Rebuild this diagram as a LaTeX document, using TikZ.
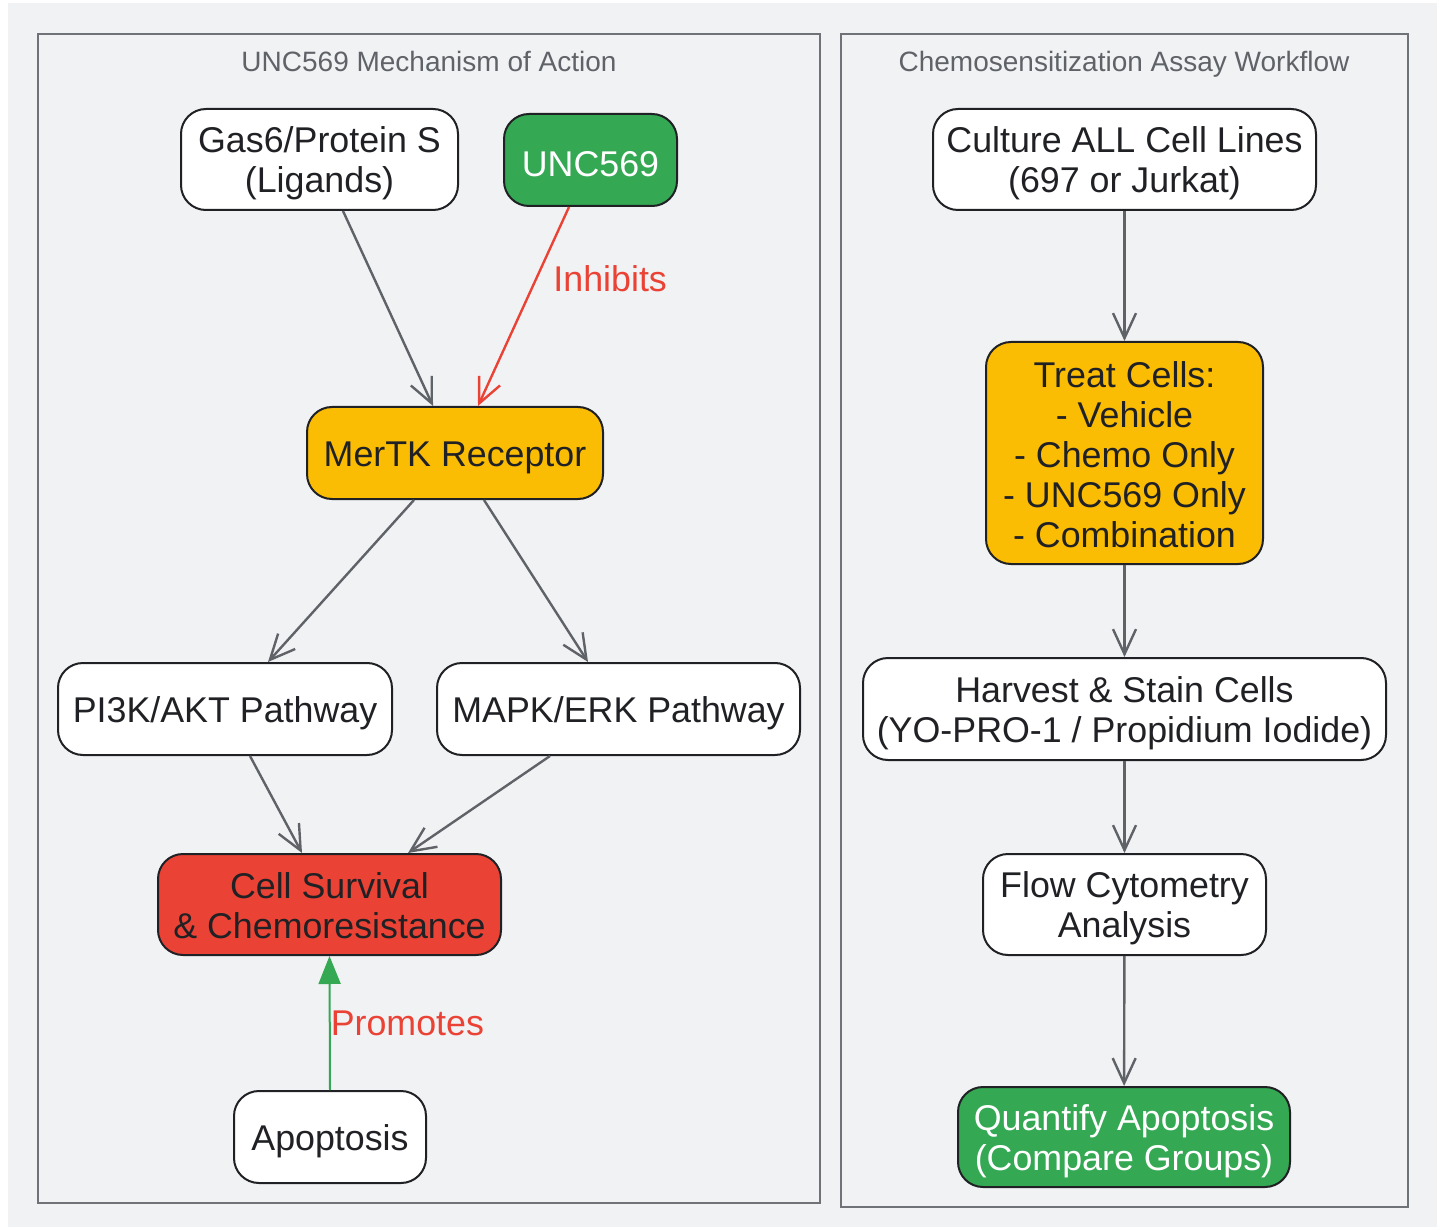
\documentclass[tikz,border=0pt]{standalone}
\usepackage{fontspec}
\setmainfont{Liberation Sans}
\usetikzlibrary{positioning,arrows.meta}
\definecolor{panel}{HTML}{F1F2F4}
\definecolor{ink}{HTML}{202124}
\definecolor{edgegray}{HTML}{5F6368}
\definecolor{gyellow}{HTML}{FBBC04}
\definecolor{ggreen}{HTML}{34A853}
\definecolor{gred}{HTML}{EA4335}
\newcommand{\toprule}{\rule{0pt}{34pt}} % pushes the first line down a little
\tikzset{
	x=1pt, y=-1pt, % one unit is one pixel of the reference, y runs down
	box/.style={draw=ink, line width=2pt, rounded corners=25pt, fill=white, text=ink,
		align=center, inner sep=0pt, font=\fontsize{35.8}{40}\selectfont,
		execute at begin node=\toprule}, % every step of the diagram
	cluster/.style={draw=edgegray!90, line width=2.5pt}, % the two frames
	title/.style={text=edgegray, anchor=base, font=\fontsize{28}{34}\selectfont}, % frame captions
	flow/.style={draw=edgegray, line width=2.4pt, -{Straight Barb[length=25pt,width=23pt]}},
	inhib/.style={draw=gred, line width=2.4pt, -{Straight Barb[length=25pt,width=23pt]}},
	promo/.style={draw=ggreen, line width=2pt, -{Triangle[length=28pt,width=22pt]}},
	lbl/.style={text=gred, inner sep=2pt, font=\fontsize{35.8}{40}\selectfont},
}
\begin{document}
\begin{tikzpicture}
	\useasboundingbox (0,0) rectangle (1443,1230);
	\fill[panel] (8,3) rectangle (1437,1227);
	\draw[cluster] (38,34) rectangle (820,1203);
	\draw[cluster] (841,34) rectangle (1408,1207);
	\node[title] (lefttitle) at (429,72) {UNC569 Mechanism of Action};
	\node[title] (righttitle) at (1124,72) {Chemosensitization Assay Workflow};
	
	% mechanism
	\node[box, minimum width=277pt, minimum height=101pt] (gas) at (319.5,159.5) {\toprule Gas6/Protein S\\(Ligands)};
	\node[box, fill=ggreen, text=white, minimum width=173pt, minimum height=92pt] (unc) at (590.5,160) {UNC569};
	\node[box, fill=gyellow, minimum width=296pt, minimum height=92pt] (mertk) at (455,453) {MerTK Receptor};
	\node[box, minimum width=334pt, minimum height=92pt] (pi3k) at (225,709) {PI3K/AKT Pathway};
	\node[box, minimum width=363pt, minimum height=92pt] (mapk) at (618.5,709) {MAPK/ERK Pathway};
	\node[box, fill=gred, minimum width=343pt, minimum height=101pt] (surv) at (329.5,904.5) {\rule{0pt}{28pt}Cell Survival\\\& Chemoresistance};
	\node[box, minimum width=192pt, minimum height=92pt] (apop) at (330,1137) {Apoptosis};
	
	% assay workflow
	\node[box, minimum width=383pt, minimum height=101pt] (culture) at (1124.5,159.5) {\toprule Culture ALL Cell Lines\\(697 or Jurkat)};
	\node[box, fill=gyellow, minimum width=277pt, minimum height=222pt] (treat) at (1124.5,453) {\rule{0pt}{30pt}Treat Cells:\\- Vehicle\\- Chemo Only\\- UNC569 Only\\- Combination};
	\node[box, minimum width=523pt, minimum height=102pt] (harvest) at (1124.5,709) {\toprule Harvest \& Stain Cells\\(YO-PRO-1 / Propidium Iodide)};
	\node[box, minimum width=283pt, minimum height=101pt] (flowcyt) at (1124.5,904.5) {\toprule Flow Cytometry\\Analysis};
	\node[box, fill=ggreen, text=white, minimum width=332pt, minimum height=100pt] (quant) at (1124,1137) {\toprule Quantify Apoptosis\\(Compare Groups)};
	
	\draw[flow] ([xshift=23.5pt]gas.south) -- ([xshift=-22pt]mertk.north);
	\draw[inhib] ([xshift=-21.5pt]unc.south) -- node[lbl, pos=0.36, right=14pt] {Inhibits} ([xshift=23pt]mertk.north);
	\draw[flow] ([xshift=-41pt]mertk.south) -- ([xshift=43pt]pi3k.north);
	\draw[flow] ([xshift=29pt]mertk.south) -- ([xshift=-30.5pt]mapk.north);
	\draw[flow] ([xshift=25pt]pi3k.south) -- ([xshift=-27.5pt]surv.north);
	\draw[flow] ([xshift=-68.5pt]mapk.south) -- ([xshift=78.5pt]surv.north);
	\draw[promo] (apop.north) -- node[lbl, pos=0.5, anchor=west, inner sep=0pt] {Promotes} (surv.south);
	
	\draw[flow] (culture) -- (treat);
	\draw[flow] (treat) -- (harvest);
	\draw[flow] (harvest) -- (flowcyt);
	\draw[flow] (flowcyt) -- (quant);
\end{tikzpicture}
\end{document}
